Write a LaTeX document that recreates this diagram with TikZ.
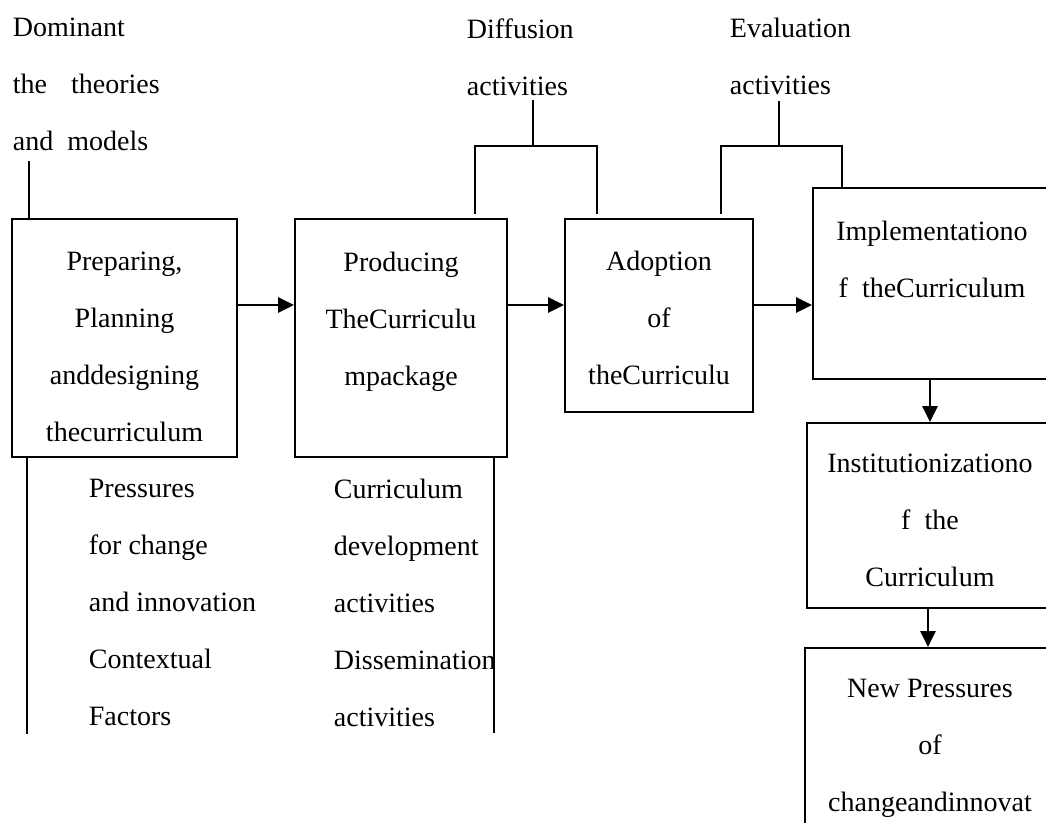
\documentclass[tikz,border=0pt]{standalone}
\usepackage{fontspec}
\setmainfont{Liberation Serif}
\usetikzlibrary{positioning, arrows.meta}

\begin{document}
\begin{tikzpicture}[x=0.5pt, y=-0.5pt,
    font=\fontsize{14}{28.5}\selectfont,
    line width=0.9pt,
    stage/.style={draw, inner sep=0pt},
    boxtext/.style={align=center, inner sep=0pt},
    note/.style={align=left, inner sep=0pt, anchor=north west},
    flow/.style={line width=1.4pt, -{Triangle[length=8pt, width=7.5pt]}}]
    \useasboundingbox (0,0) rectangle (1046,823);
    \clip (0,0) rectangle (1046,823);

    % stage boxes
    \node[stage, minimum width=112.5pt, minimum height=119pt] (prep) at (124.5,338) {};
    \node[stage, minimum width=106pt, minimum height=119pt] (prod) at (401,338) {};
    \node[stage, minimum width=94pt, minimum height=96.5pt] (adopt) at (659,315.5) {};
    \node[stage, minimum width=119pt, minimum height=95.5pt] (impl) at (932,283.5) {};
    \node[stage, minimum width=123pt, minimum height=92.5pt] (inst) at (930,515.5) {};
    \node[stage, minimum width=125pt, minimum height=126pt] (newp) at (930,774) {};

    \node[boxtext, below=16.5pt of prep.north] (preptext) {Preparing,\\Planning\\anddesigning\\thecurriculum};
    \node[boxtext, below=16.5pt of prod.north] (prodtext) {Producing\\TheCurriculu\\mpackage};
    \node[boxtext, below=16pt of adopt.north] (adopttext) {Adoption\\of\\theCurriculu};
    \node[boxtext, below=16.5pt of impl.north] (impltext) {Implementationo\\f~~theCurriculum};
    \node[boxtext, below=15.5pt of inst.north] (insttext) {Institutionizationo\\f~~the\\Curriculum};
    \node[boxtext, below=15.5pt of newp.north] (newptext) {New Pressures\\of\\changeandinnovat};

    % labels above and below
    \node[note] (theory) at (12,17.5) {Dominant\\the\hspace{12pt}theories\\and~~models};
    \node[note] (diffusion) at (466,17.5) {Diffusion\\activities};
    \node[note] (evaluation) at (729,17.5) {Evaluation\\activities};
    \node[note] (pressure) at (88,478) {Pressures\\for change\\and innovation\\Contextual\\Factors};
    \node[note] (develop) at (333,478) {Curriculum\\development\\activities\\Dissemination\\activities};

    \draw ([xshift=9pt]prep.north west) -- ++(0,-57);
    \draw ([xshift=8pt]prep.south west) -- ++(0,276);
    \draw ([xshift=-7pt]prod.south east) -- ++(0,275);

    % brackets
    \coordinate (difM) at (533,146);
    \path (prod.north west) ++(181,-4) coordinate (difL);
    \path (adopt.north west) ++(33,-4) coordinate (difR);
    \draw (difL) |- (difM) -| (difR);
    \draw (difM) -- ++(0,-46);

    \coordinate (evaM) at (779,146);
    \path (adopt.north west) ++(157,-4) coordinate (evaL);
    \path (impl.north west) ++(30,0) coordinate (evaR);
    \draw (evaL) |- (evaM) -| (evaR);
    \draw (evaM) -- ++(0,-45);

    % arrows
    \coordinate (row) at (0,305);
    \draw[flow] (prep.east |- row) -- (prod.west |- row);
    \draw[flow] (prod.east |- row) -- (adopt.west |- row);
    \draw[flow] (adopt.east |- row) -- (impl.west |- row);
    \draw[flow] (impl.south -| inst.north) -- (inst.north);
    \draw[flow] ([xshift=-1pt]inst.south -| newp.north) -- ([xshift=-1pt]newp.north);
\end{tikzpicture}
\end{document}
